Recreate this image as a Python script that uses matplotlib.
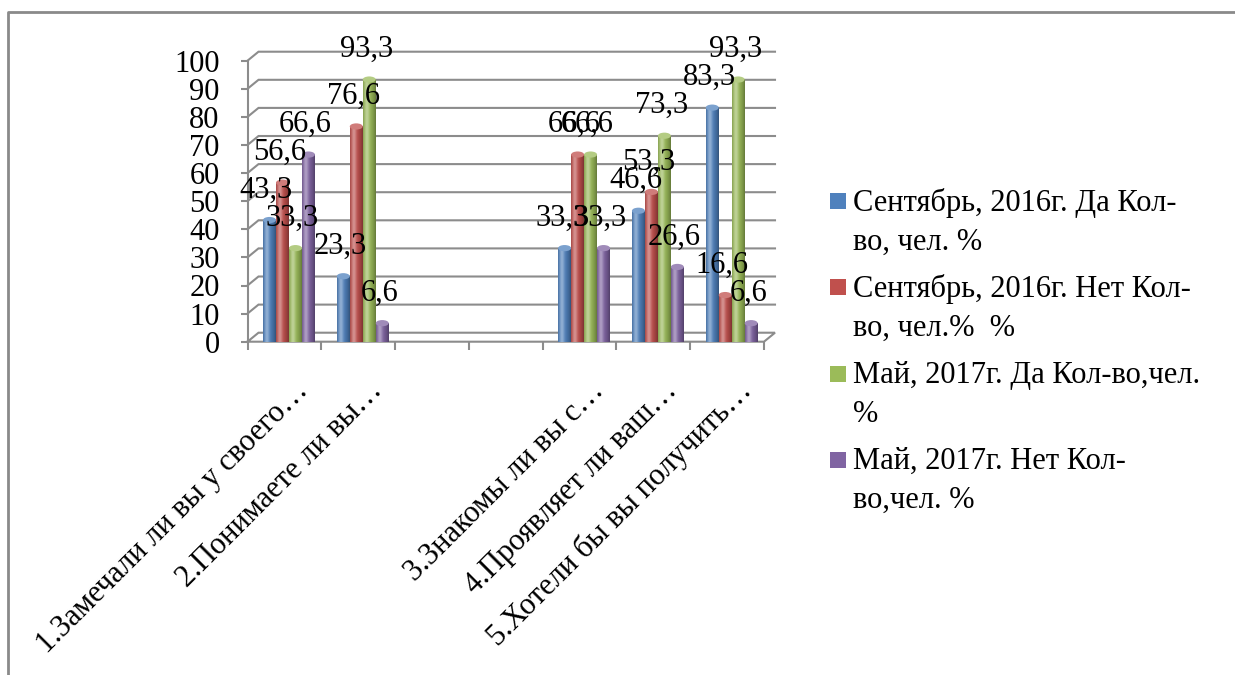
import numpy as np
import matplotlib.pyplot as plt
from matplotlib.patches import Rectangle, Ellipse
from matplotlib.lines import Line2D
from matplotlib.colors import to_rgb

plt.rcParams['font.family'] = ['Liberation Serif', 'DejaVu Serif']

# questions (two empty slots between 2 and 3)
categories = ['1.Замечали ли вы у своего…', '2.Понимаете ли вы…', '', '',
              '3.Знакомы ли вы с…', '4.Проявляет ли ваш…', '5.Хотели бы вы получить…']

sep_yes = [43.3, 23.3, None, None, 33.3, 46.6, 83.3]
sep_no = [56.6, 76.6, None, None, 66.6, 53.3, 16.6]
may_yes = [33.3, 93.3, None, None, 66.6, 73.3, 93.3]
may_no = [66.6, 6.6, None, None, 33.3, 26.6, 6.6]

series_names = ['Сентябрь, 2016г. Да Кол-\nво, чел. %',
                'Сентябрь, 2016г. Нет Кол-\nво, чел.%  %',
                'Май, 2017г. Да Кол-во,чел.\n%',
                'Май, 2017г. Нет Кол-\nво,чел. %']
colors = ['#4F81BD', '#C0504D', '#9BBB59', '#8064A2']
series = [sep_yes, sep_no, may_yes, may_no]

W_FIG, H_FIG = 1235, 675
FS = 22
grid_c = '#8c8c8c'

fig = plt.figure(figsize=(W_FIG / 100, H_FIG / 100), dpi=100)
ax = fig.add_axes([247.5 / W_FIG, 333.3 / H_FIG, 516.5 / W_FIG, 281 / H_FIG])
n = len(categories)
ax.set_xlim(0, n)
ax.set_ylim(0, 100)
for s in ax.spines.values():
    s.set_visible(False)
ax.spines['left'].set_visible(True)
ax.spines['left'].set_color(grid_c)
ax.spines['left'].set_linewidth(1.5)

ax.set_yticks(range(0, 101, 10))
ax.tick_params(axis='y', direction='out', length=5, width=1.5, color=grid_c,
               labelsize=FS, pad=15)
ax.set_xticks(range(n + 1))
ax.set_xticklabels([])
ax.tick_params(axis='x', direction='out', length=6, width=1.5, color=grid_c)

# depth of the fake 3d box (data units)
DX, DY = 0.149, 3.2
for y in range(10, 101, 10):
    ax.plot([0, DX, n + DX], [y, y + DY, y + DY], color=grid_c, lw=1.5,
            clip_on=False, zorder=1, solid_joinstyle='miter')
ax.plot([0, DX, n + DX, n, 0], [0, DY, DY, 0, 0], color=grid_c, lw=1.5,
        clip_on=False, zorder=1, solid_joinstyle='miter')


def shade(color, steps=40):
    base = np.array(to_rgb(color))
    t = np.linspace(0, 1, steps)[:, None]
    light = 0.38 * np.exp(-((t - 0.3) / 0.2) ** 2)
    dark = 0.35 * t ** 3 + 0.15 * (1 - t) ** 6
    rgb = base * (1 - dark)
    rgb = rgb + (1 - rgb) * light
    return rgb[None, :, :]


bw = 0.176
start = 0.21
for j, (vals, c) in enumerate(zip(series, colors)):
    img = shade(c)
    cap = np.array(to_rgb(c))
    cap = cap + (1 - cap) * 0.25
    for i, v in enumerate(vals):
        if v is None:
            continue
        x0 = i + start + j * bw
        ax.imshow(img, extent=(x0, x0 + bw, 0, v), aspect='auto',
                  interpolation='bilinear', zorder=2)
        ax.add_patch(Ellipse((x0 + bw / 2, v), bw, 2.2, facecolor=cap,
                             edgecolor='none', zorder=3))
        ax.annotate(f'{v:.1f}'.replace('.', ','), (x0 + bw / 2, v),
                    xytext=(-3, 30), textcoords='offset pixels',
                    ha='center', va='center', fontsize=FS, zorder=5,
                    annotation_clip=False)

ax.set_xlim(0, n)
ax.set_ylim(0, 100)

for i, lab in enumerate(categories):
    if lab:
        ax.annotate(lab, (i + 0.5, 0), xytext=(20, -45),
                    textcoords='offset pixels', rotation=45,
                    rotation_mode='anchor', ha='right', va='center',
                    fontsize=FS, annotation_clip=False)

# legend
leg_y = [201, 287, 374, 460]
for name, c, y in zip(series_names, colors, leg_y):
    fig.add_artist(Rectangle((830 / W_FIG, 1 - (y + 8) / H_FIG), 16 / W_FIG,
                             16 / H_FIG, transform=fig.transFigure,
                             facecolor=c, edgecolor='none'))
    fig.text(853 / W_FIG, 1 - (y - 13) / H_FIG, name, va='top', ha='left',
             fontsize=FS, linespacing=1.44)

# outer frame
fig.add_artist(Line2D([8 / W_FIG, 8 / W_FIG, 1], [0, 1 - 12 / H_FIG, 1 - 12 / H_FIG],
                      transform=fig.transFigure, color='#8a8a8a', lw=2))

fig.savefig('out.png', dpi=100)
